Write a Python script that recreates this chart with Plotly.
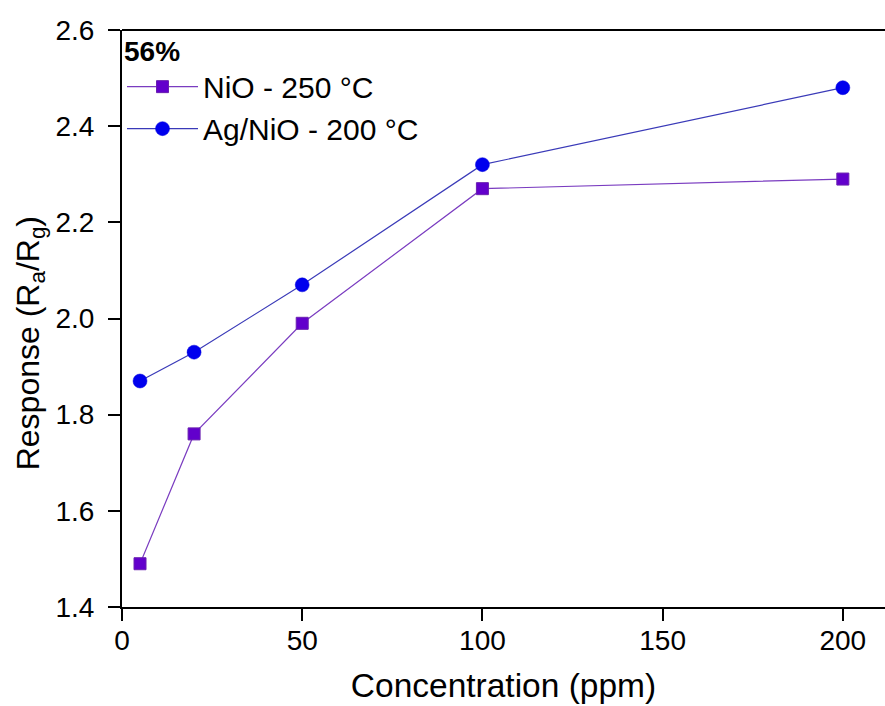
import plotly.graph_objects as go

concentration = [5, 20, 50, 100, 200]
nio_250 = [1.49, 1.76, 1.99, 2.27, 2.29]
agnio_200 = [1.87, 1.93, 2.07, 2.32, 2.48]
x_ticks = [0, 50, 100, 150, 200]
y_ticks = [1.4, 1.6, 1.8, 2.0, 2.2, 2.4, 2.6]

fig = go.Figure()
fig.add_trace(go.Scatter(
    x=concentration, y=nio_250, mode="lines+markers", name="NiO - 250 °C",
    line=dict(color="#7a3cc0", width=1.2),
    marker=dict(symbol="square", size=12, color="#6200cc", line=dict(color="#6a1fb0", width=1)),
))
fig.add_trace(go.Scatter(
    x=concentration, y=agnio_200, mode="lines+markers", name="Ag/NiO - 200 °C",
    line=dict(color="#3a3ab8", width=1.2),
    marker=dict(symbol="circle", size=14, color="#0000ee", line=dict(color="#0000dd", width=0.5)),
))

font = "Liberation Sans, Arial, sans-serif"
fig.update_layout(
    width=885, height=706,
    margin=dict(l=122, r=0, t=30, b=99),
    paper_bgcolor="white", plot_bgcolor="white",
    font=dict(family=font, color="black"),
    showlegend=True,
    legend=dict(
        x=0.0, y=1.01, xanchor="left", yanchor="top",
        bgcolor="rgba(0,0,0,0)",
        font=dict(size=30, family=font),
        title=dict(text="<b>56%</b>", font=dict(size=28, family=font), side="top"),
        itemwidth=71, tracegroupgap=0,
    ),
    xaxis=dict(
        range=[0, 211.7], tickvals=x_ticks, ticktext=[str(v) for v in x_ticks],
        showgrid=False, zeroline=False, showline=True, linecolor="black", linewidth=2,
        mirror=False, ticks="outside", ticklen=12, tickwidth=2, tickcolor="black",
        tickfont=dict(size=28, family=font), ticklabelstandoff=-5,
        title=dict(text="Concentration (ppm)", font=dict(size=33.5, family=font), standoff=19),
    ),
    yaxis=dict(
        range=[1.4, 2.6], tickvals=y_ticks, ticktext=[f"{v:.1f}" for v in y_ticks],
        showgrid=False, zeroline=False, showline=True, linecolor="black", linewidth=2,
        ticks="outside", ticklen=12, tickwidth=2, tickcolor="black",
        tickfont=dict(size=28, family=font), ticklabelstandoff=8,
    ),
    annotations=[dict(
        text="Response (R<sub>a</sub>/R<sub>g</sub>)", textangle=-90,
        xref="paper", yref="paper", x=0, y=0.457, xshift=-92,
        xanchor="center", yanchor="middle", showarrow=False,
        font=dict(size=32, family=font, color="black"),
    )],
)
fig.add_shape(type="line", xref="paper", yref="paper", x0=0, x1=1, y0=1, y1=1,
              line=dict(color="black", width=2))

fig.write_html("out.html")
